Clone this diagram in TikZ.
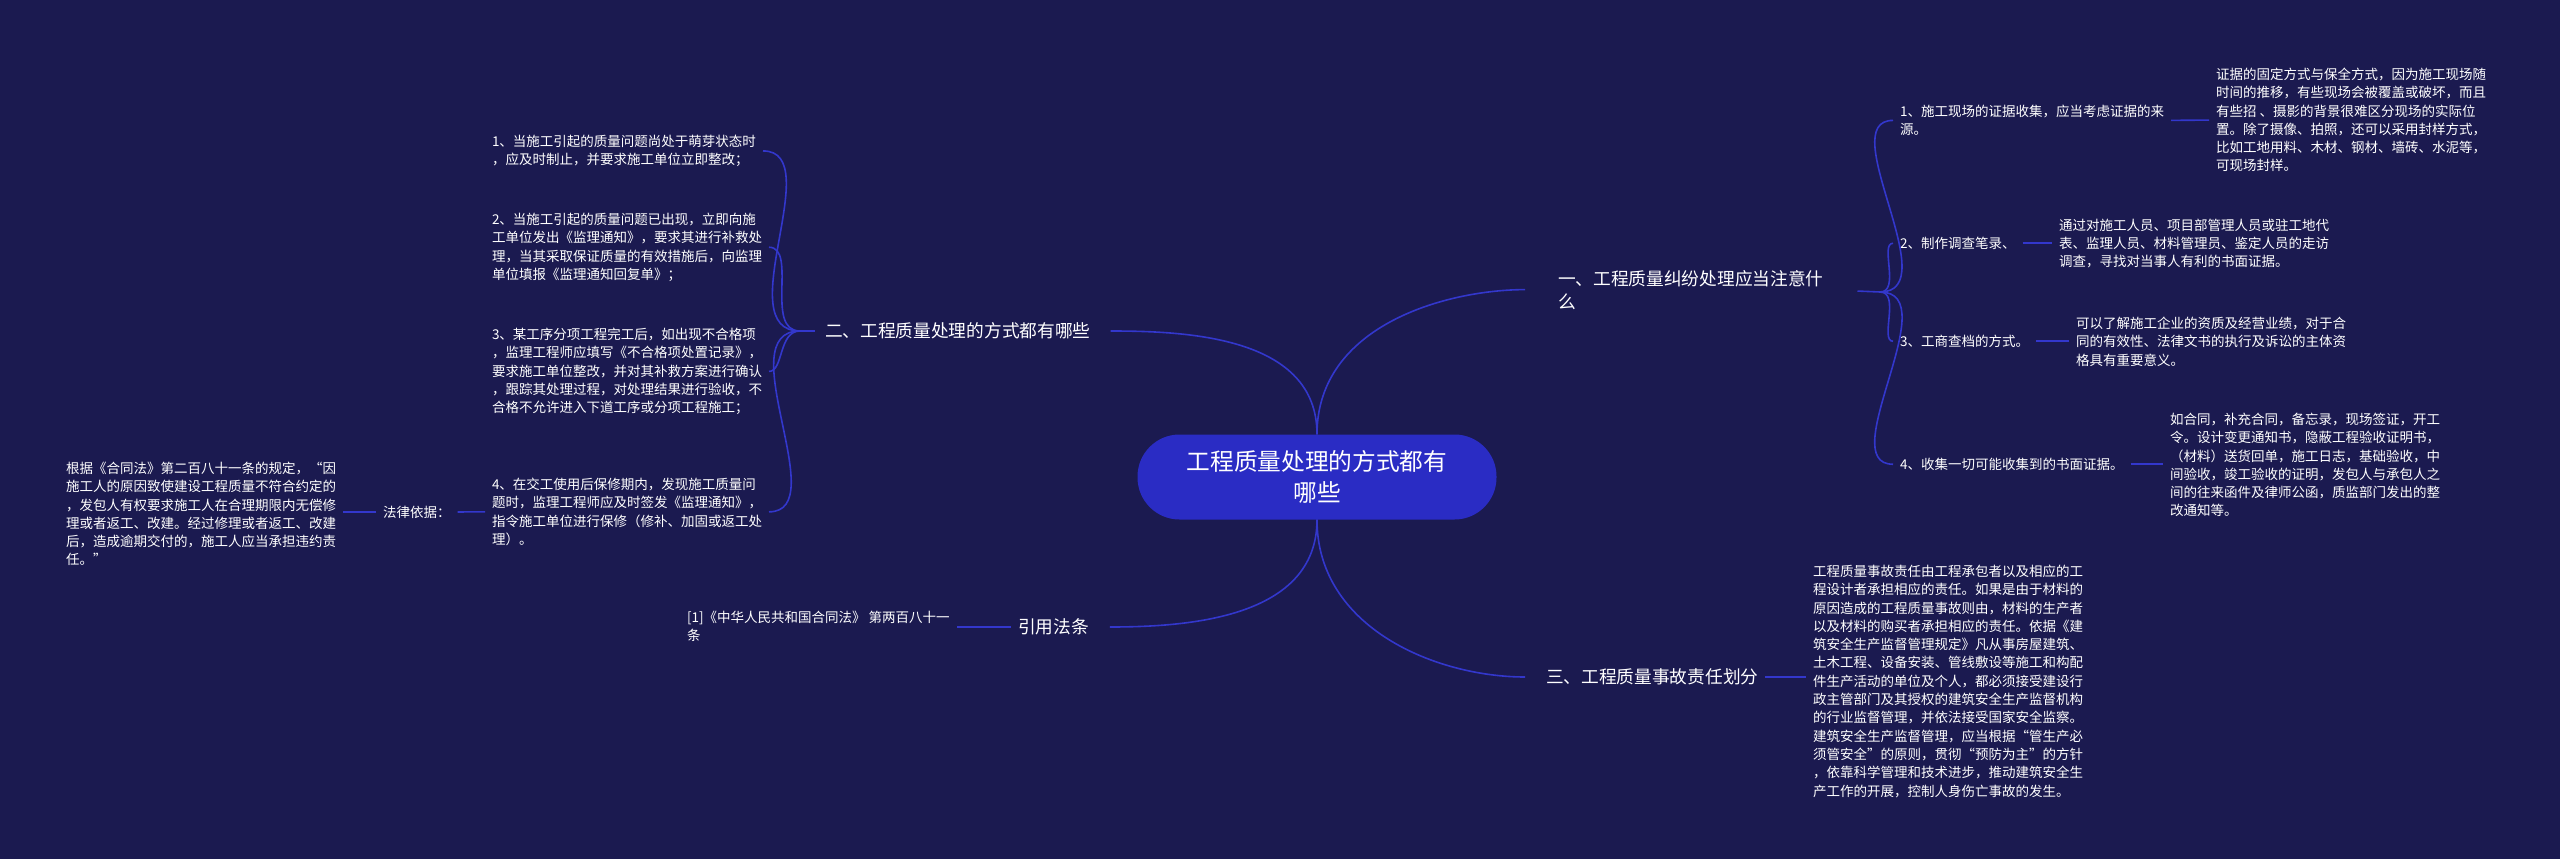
\documentclass[tikz,border=0pt]{standalone}
\usepackage{fontspec}
\setmainfont{Noto Sans CJK SC}
\definecolor{bgc}{HTML}{1B1A50}
\definecolor{ctr}{HTML}{2A2CC4}
\definecolor{lnc}{HTML}{3337CC}
\begin{document}
\begin{tikzpicture}[x=1pt,y=-1pt,
  leaf/.style={text=white,inner sep=0pt,outer sep=0pt,align=left,font=\fontsize{13.5}{18.3}\selectfont},
  branch/.style={text=white,inner sep=0pt,outer sep=0pt,align=left,font=\fontsize{17.7}{23}\selectfont},
  link/.style={draw=lnc,line width=1.6pt,shorten >=7pt,shorten <=7pt},
  trunk/.style={draw=lnc,line width=1.6pt,shorten >=21pt}]
\path[fill=bgc] (0,0) rectangle (2560,859);
% center
\node[fill=ctr,rounded corners=42pt,minimum width=359pt,minimum height=85pt,text=white,align=center,font=\fontsize{23.7}{31}\selectfont] (c) at (1317,477) {工程质量处理的方式都有\\哪些};
% branches
\node[branch,anchor=north west] (b1) at (1558,270) {一、工程质量纠纷处理应当注意什\\么};
\node[branch,anchor=west] (b2) at (825,331) {二、工程质量处理的方式都有哪些};
\node[branch,anchor=west] (b3) at (1546,677) {三、工程质量事故责任划分};
\node[branch,anchor=west] (b4) at (1018,627) {引用法条};
\draw[trunk,shorten >=33pt] (c.north) to[out=90,in=180] (b1.west);
\draw[trunk,shorten >=20pt] (c.north) to[out=90,in=0] (b2.east);
\draw[trunk] (c.south) to[out=-90,in=180] (b3.west);
\draw[trunk] (c.south) to[out=-90,in=0] (b4.east);
% right items
\coordinate (rj) at (1880,292);
\draw[link,shorten >=0pt,shorten <=34pt] (b1.east) -- (rj);
\node[leaf,anchor=north west] (r1) at (1900,105) {1、施工现场的证据收集，应当考虑证据的来\\源。};
\node[leaf,anchor=north west] (r2) at (1900,237) {2、制作调查笔录、};
\node[leaf,anchor=north west] (r3) at (1900,335) {3、工商查档的方式。};
\node[leaf,anchor=north west] (r4) at (1900,458) {4、收集一切可能收集到的书面证据。};
\foreach \n in {r1,r2,r3,r4} \draw[link,shorten <=0pt] (rj) to[out=0,in=180] (\n.west);
\node[leaf,anchor=north west] (d1) at (2216,68) {证据的固定方式与保全方式，因为施工现场随\\时间的推移，有些现场会被覆盖或破坏，而且\\有些招 、摄影的背景很难区分现场的实际位\\置。除了摄像、拍照，还可以采用封样方式，\\比如工地用料、木材、钢材、墙砖、水泥等，\\可现场封样。};
\node[leaf,anchor=north west] (d2) at (2059,219) {通过对施工人员、项目部管理人员或驻工地代\\表、监理人员、材料管理员、鉴定人员的走访\\调查，寻找对当事人有利的书面证据。};
\node[leaf,anchor=north west] (d3) at (2076,317) {可以了解施工企业的资质及经营业绩，对于合\\同的有效性、法律文书的执行及诉讼的主体资\\格具有重要意义。};
\node[leaf,anchor=north west] (d4) at (2170,413) {如合同，补充合同，备忘录，现场签证，开工\\令。设计变更通知书，隐蔽工程验收证明书，\\（材料）送货回单，施工日志，基础验收，中\\间验收，竣工验收的证明，发包人与承包人之\\间的往来函件及律师公函，质监部门发出的整\\改通知等。};
\draw[link] (r1.east) -- (d1.west);
\draw[link] (r2.east) -- (r2.east -| d2.west);
\draw[link] (r3.east) -- (r3.east -| d3.west);
\draw[link] (r4.east) -- (r4.east -| d4.west);
% branch 3 detail
\node[leaf,anchor=north west] (d5) at (1813,565) {工程质量事故责任由工程承包者以及相应的工\\程设计者承担相应的责任。如果是由于材料的\\原因造成的工程质量事故则由，材料的生产者\\以及材料的购买者承担相应的责任。依据《建\\筑安全生产监督管理规定》凡从事房屋建筑、\\土木工程、设备安装、管线敷设等施工和构配\\件生产活动的单位及个人，都必须接受建设行\\政主管部门及其授权的建筑安全生产监督机构\\的行业监督管理，并依法接受国家安全监察。\\建筑安全生产监督管理，应当根据“管生产必\\须管安全”的原则，贯彻“预防为主”的方针\\，依靠科学管理和技术进步，推动建筑安全生\\产工作的开展，控制人身伤亡事故的发生。};
\draw[link] (b3.east) -- (b3.east -| d5.west);
% left items
\coordinate (lj) at (800,331);
\draw[link,shorten >=0pt,shorten <=10pt] (b2.west) -- (lj);
\node[leaf,anchor=north west] (l1) at (492,135) {1、当施工引起的质量问题尚处于萌芽状态时\\，应及时制止，并要求施工单位立即整改；};
\node[leaf,anchor=north west] (l2) at (492,213) {2、当施工引起的质量问题已出现，立即向施\\工单位发出《监理通知》，要求其进行补救处\\理，当其采取保证质量的有效措施后，向监理\\单位填报《监理通知回复单》；};
\node[leaf,anchor=north west] (l3) at (492,328) {3、某工序分项工程完工后，如出现不合格项\\，监理工程师应填写《不合格项处置记录》，\\要求施工单位整改，并对其补救方案进行确认\\，跟踪其处理过程，对处理结果进行验收，不\\合格不允许进入下道工序或分项工程施工；};
\node[leaf,anchor=north west] (l4) at (492,478) {4、在交工使用后保修期内，发现施工质量问\\题时，监理工程师应及时签发《监理通知》，\\指令施工单位进行保修（修补、加固或返工处\\理）。};
\foreach \n in {l1,l2,l3,l4} \draw[link,shorten <=0pt] (lj) to[out=180,in=0] (\n.east);
\node[leaf,anchor=west] (law) at (383,512) {法律依据：};
\node[leaf,anchor=north west] (lawd) at (66,462) {根据《合同法》第二百八十一条的规定，“因\\施工人的原因致使建设工程质量不符合约定的\\，发包人有权要求施工人在合理期限内无偿修\\理或者返工、改建。经过修理或者返工、改建\\后，造成逾期交付的，施工人应当承担违约责\\任。”};
\draw[link] (l4.west) -- (law.east);
\draw[link] (law.west) -- (law.west -| lawd.east);
% cite
\node[leaf,anchor=north west] (cl) at (687,611) {[1]《中华人民共和国合同法》 第两百八十一\\条};
\draw[link] (b4.west) -- (b4.west -| cl.east);
\end{tikzpicture}
\end{document}
